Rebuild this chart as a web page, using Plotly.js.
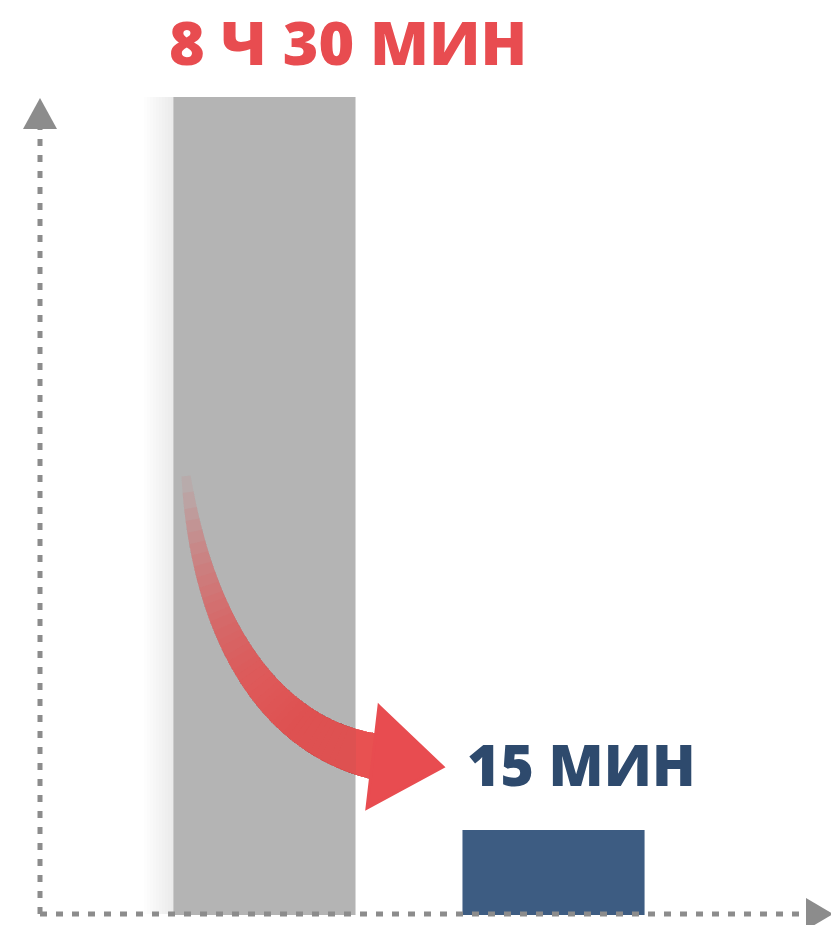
<!DOCTYPE html>
<html>
<head>
<meta charset="utf-8">
<script src="https://cdn.plot.ly/plotly-3.0.1.min.js"></script>
<style>html,body{margin:0;padding:0;background:#fff;}#chart{width:831px;height:925px;}</style>
</head>
<body>
<div id="chart"></div>
<script>
// ---- data ----
const categories = ['До', 'После'];
const durationLabels = ['8 Ч 30 МИН', '15 МИН'];
const durationMinutes = [510, 15];
// bar heights as drawn in the infographic (% of the tallest bar, not to scale)
const drawnHeights = [100, 10.4];
const barColors = ['#b4b4b4', '#3d5c82'];
const labelColors = ['#e84c50', '#2e4a6d'];

const W = 831, H = 925;
const px = x => x / W;
const py = y => 1 - y / H;

const shapes = [];

// soft shadow on the left of the grey bar
for (let i = 0; i < 10; i++) {
  shapes.push({type: 'rect', xref: 'paper', yref: 'paper', layer: 'below',
    x0: px(174 - 3 * (i + 1)), x1: px(174), y0: py(914), y1: py(97),
    fillcolor: 'rgba(0,0,0,0.009)', line: {width: 0}});
}

// dotted axes
const axisColor = '#8c8c8c';
shapes.push({type: 'line', xref: 'paper', yref: 'paper', x0: px(40), x1: px(40), y0: py(914), y1: py(126),
  line: {color: axisColor, width: 5, dash: '7px,9px'}});
shapes.push({type: 'line', xref: 'paper', yref: 'paper', x0: px(40), x1: px(808), y0: py(914), y1: py(914),
  line: {color: axisColor, width: 5, dash: '7px,9px'}});
function poly(pts) {
  return 'M' + pts.map(p => px(p[0]) + ',' + py(p[1])).join('L') + 'Z';
}
shapes.push({type: 'path', xref: 'paper', yref: 'paper', path: poly([[40, 98], [57, 129], [23, 129]]),
  fillcolor: axisColor, line: {width: 0}});
shapes.push({type: 'path', xref: 'paper', yref: 'paper', path: poly([[833, 914], [806, 898], [806, 930]]),
  fillcolor: axisColor, line: {width: 0}});

// curved arrow: shaft built from stacked translucent layers (fading in)
const P0 = [184, 455], P1 = [198, 625], P2 = [268, 737], P3 = [378, 757];
function bez(t) {
  const a = (1 - t) ** 3, b = 3 * (1 - t) ** 2 * t, c = 3 * (1 - t) * t * t, d = t ** 3;
  return [a * P0[0] + b * P1[0] + c * P2[0] + d * P3[0], a * P0[1] + b * P1[1] + c * P2[1] + d * P3[1]];
}
const N = 120;
const pts = [];
for (let i = 0; i <= N; i++) {
  const t = i / N;
  const p = bez(t);
  const q = bez(Math.min(1, t + 0.001)), r = bez(Math.max(0, t - 0.001));
  let dx = q[0] - r[0], dy = q[1] - r[1];
  const L = Math.hypot(dx, dy); dx /= L; dy /= L;
  const w = 3 + 20 * Math.pow(t, 0.8);
  pts.push({l: [p[0] - dy * w, p[1] + dx * w], r: [p[0] + dy * w, p[1] - dx * w]});
}
const LAYERS = 40;
for (let k = 0; k < LAYERS; k++) {
  const start = Math.round(N * (0.04 + 0.86 * Math.pow(k / LAYERS, 0.85)));
  const left = [], right = [];
  for (let i = start; i <= N; i++) { left.push(pts[i].l); right.push(pts[i].r); }
  shapes.push({type: 'path', xref: 'paper', yref: 'paper',
    path: poly(left.concat(right.reverse())),
    fillcolor: 'rgba(232,76,80,0.085)', line: {width: 0}});
}
shapes.push({type: 'path', xref: 'paper', yref: 'paper',
  path: poly([[379, 706], [443, 767], [367, 808]]),
  fillcolor: '#e84c50', line: {color: '#e84c50', width: 3}});

const barWidth = 0.63;
const annotations = categories.map((c, i) => ({
  x: i - barWidth / 2, y: drawnHeights[i], xref: 'x', yref: 'y',
  xanchor: 'left', yanchor: 'bottom', showarrow: false,
  text: durationLabels[i], xshift: i === 0 ? -6 : 3, yshift: i === 0 ? 12 : 25,
  font: {family: 'Open Sans, sans-serif', size: i === 0 ? 61 : 57, weight: 800, color: labelColors[i]}
}));

const trace = {
  type: 'bar', x: categories, y: drawnHeights,
  marker: {color: barColors, line: {width: 0}},
  width: barWidth, hoverinfo: 'skip',
  customdata: durationMinutes
};

const layout = {
  width: W, height: H,
  margin: {l: 0, r: 0, t: 0, b: 0},
  paper_bgcolor: '#ffffff', plot_bgcolor: 'rgba(0,0,0,0)',
  showlegend: false,
  xaxis: {range: [-0.915, 1.96], visible: false, fixedrange: true},
  yaxis: {range: [-1.22, 111.86], visible: false, fixedrange: true},
  shapes: shapes,
  annotations: annotations
};

Plotly.newPlot('chart', [trace], layout, {staticPlot: true, displayModeBar: false});
</script>
</body>
</html>
